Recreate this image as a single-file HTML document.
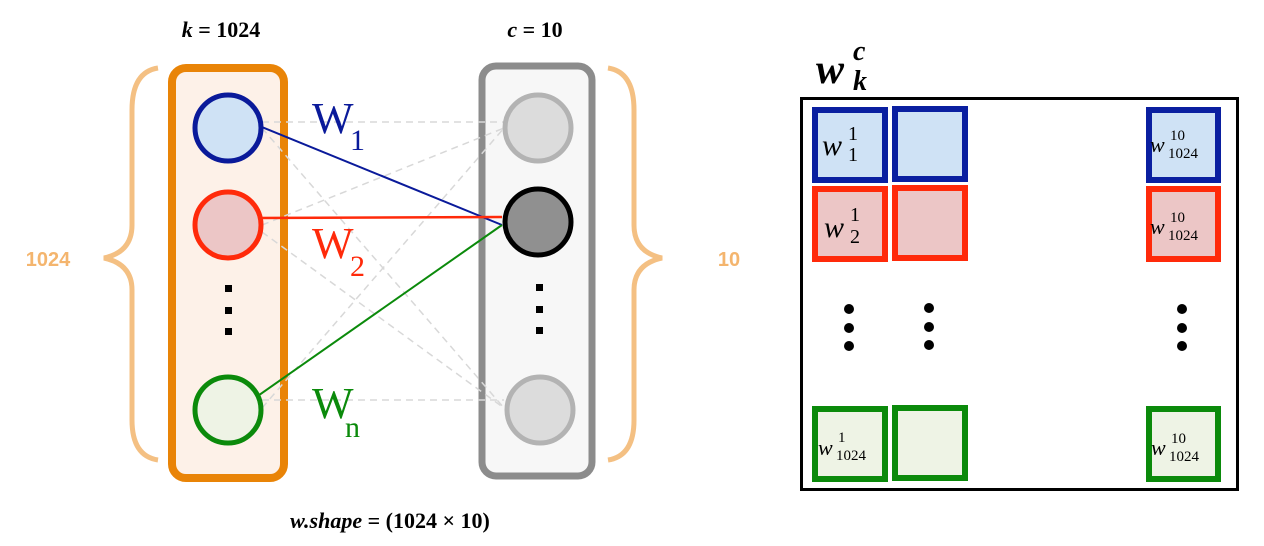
<!DOCTYPE html>
<html><head><style>
body{margin:0;width:1264px;height:546px;background:#fff;overflow:hidden;font-family:"Liberation Serif",serif}
</style></head><body>
<svg width="1264" height="546" xmlns="http://www.w3.org/2000/svg" style="position:absolute;left:0;top:0">
<rect x="172" y="68" width="112" height="410" rx="14" fill="#fdf1e8" stroke="#e98407" stroke-width="8"/>
<rect x="482" y="66" width="110" height="410" rx="14" fill="#f7f7f7" stroke="#8c8c8c" stroke-width="7"/>
<g stroke="#d8d8d8" stroke-width="1.5" stroke-dasharray="7,5" fill="none">
<line x1="262" y1="122" x2="504" y2="122"/><line x1="262" y1="128" x2="504" y2="408"/>
<line x1="262" y1="225" x2="504" y2="128"/><line x1="262" y1="232" x2="504" y2="408"/>
<line x1="262" y1="408" x2="504" y2="128"/><line x1="262" y1="400" x2="504" y2="400"/>
</g>
<line x1="252" y1="123" x2="502" y2="225" stroke="#0a1a9a" stroke-width="2"/>
<line x1="252" y1="218" x2="502" y2="217" stroke="#ff2a0a" stroke-width="2.5"/>
<line x1="252" y1="400" x2="502" y2="225" stroke="#0b8a0b" stroke-width="2"/>
<circle cx="228" cy="128" r="33" fill="#cfe2f5" stroke="#0a1a9a" stroke-width="5"/>
<circle cx="228" cy="225" r="33" fill="#ecc6c6" stroke="#ff2a0a" stroke-width="5"/>
<circle cx="228" cy="410" r="33" fill="#eef3e5" stroke="#0b8a0b" stroke-width="5"/>
<circle cx="538" cy="128" r="33" fill="#dcdcdc" stroke="#b3b3b3" stroke-width="5"/>
<circle cx="538" cy="222" r="33" fill="#909090" stroke="#000" stroke-width="5"/>
<circle cx="540" cy="410" r="33" fill="#dcdcdc" stroke="#b3b3b3" stroke-width="5"/>
<g fill="#000"><rect x="225" y="285" width="7" height="7"/><rect x="225" y="307" width="7" height="7"/><rect x="225" y="328" width="7" height="7"/>
<rect x="536" y="284" width="7" height="7"/><rect x="536" y="306" width="7" height="7"/><rect x="536" y="327" width="7" height="7"/></g>
<text x="312" y="133" font-size="44" fill="#0a1a9a">W</text><text x="350" y="150" font-size="30" fill="#0a1a9a">1</text>
<text x="312" y="258" font-size="44" fill="#ff2a0a">W</text><text x="350" y="276" font-size="30" fill="#ff2a0a">2</text>
<text x="312" y="418" font-size="44" fill="#0b8a0b">W</text><text x="345" y="437" font-size="30" fill="#0b8a0b">n</text>
<g fill="none" stroke="#f4c083" stroke-width="5">
<path d="M158,68 Q132,72 132,110 L132,225 Q132,252 104,258 Q132,264 132,290 L132,420 Q132,456 158,460"/>
<path d="M608,68 Q634,72 634,110 L634,225 Q634,252 662,258 Q634,264 634,290 L634,420 Q634,456 608,460"/>
</g>
<text x="48" y="266" font-family="Liberation Sans,sans-serif" font-weight="bold" font-size="20" fill="#f4b56e" text-anchor="middle">1024</text>
<text x="729" y="266" font-family="Liberation Sans,sans-serif" font-weight="bold" font-size="20" fill="#f4b56e" text-anchor="middle">10</text>
<text x="221" y="37" font-size="22" font-weight="bold" text-anchor="middle"><tspan font-style="italic">k</tspan> = 1024</text>
<text x="535" y="37" font-size="22" font-weight="bold" text-anchor="middle"><tspan font-style="italic">c</tspan> = 10</text>
<text x="390" y="528" font-size="22" font-weight="bold" text-anchor="middle"><tspan font-style="italic">w.shape</tspan> = (1024 × 10)</text>
<text x="816" y="83" font-size="42" font-weight="bold" font-style="italic">w</text>
<text x="853" y="60" font-size="28" font-weight="bold" font-style="italic">c</text>
<text x="853" y="90" font-size="28" font-weight="bold" font-style="italic">k</text>
<rect x="801.5" y="98.5" width="436" height="391" fill="#fff" stroke="#000" stroke-width="3"/>
<g stroke-width="6">
<rect x="815" y="110" width="70" height="70" fill="#cfe2f5" stroke="#0a1fa0"/>
<rect x="895" y="109" width="70" height="70" fill="#cfe2f5" stroke="#0a1fa0"/>
<rect x="1149" y="110" width="69" height="70" fill="#cfe2f5" stroke="#0a1fa0"/>
<rect x="815" y="189" width="70" height="70" fill="#ecc6c6" stroke="#ff2a0a"/>
<rect x="895" y="188" width="70" height="70" fill="#ecc6c6" stroke="#ff2a0a"/>
<rect x="1149" y="189" width="69" height="70" fill="#ecc6c6" stroke="#ff2a0a"/>
<rect x="815" y="409" width="70" height="70" fill="#eef3e5" stroke="#0b8a0b"/>
<rect x="895" y="408" width="70" height="70" fill="#eef3e5" stroke="#0b8a0b"/>
<rect x="1149" y="409" width="69" height="70" fill="#eef3e5" stroke="#0b8a0b"/>
</g>
<g fill="#000">
<circle cx="849" cy="309" r="5"/><circle cx="849" cy="328" r="5"/><circle cx="849" cy="346" r="5"/>
<circle cx="929" cy="308" r="5"/><circle cx="929" cy="327" r="5"/><circle cx="929" cy="345" r="5"/>
<circle cx="1182" cy="309" r="5"/><circle cx="1182" cy="328" r="5"/><circle cx="1182" cy="346" r="5"/>
</g>
<g font-family="Liberation Serif,serif">
<text x="822" y="155" font-size="30" font-style="italic">w</text><text x="848" y="140" font-size="20">1</text><text x="848" y="161" font-size="20">1</text>
<text x="824" y="237" font-size="30" font-style="italic">w</text><text x="850" y="221" font-size="20">1</text><text x="850" y="243" font-size="20">2</text>
<text x="818" y="455" font-size="22" font-style="italic">w</text><text x="838" y="442" font-size="15">1</text><text x="836" y="460" font-size="15">1024</text>
<text x="1150" y="152" font-size="22" font-style="italic">w</text><text x="1170" y="140" font-size="15">10</text><text x="1168" y="158" font-size="15">1024</text>
<text x="1150" y="234" font-size="22" font-style="italic">w</text><text x="1170" y="222" font-size="15">10</text><text x="1168" y="240" font-size="15">1024</text>
<text x="1151" y="455" font-size="22" font-style="italic">w</text><text x="1171" y="443" font-size="15">10</text><text x="1169" y="461" font-size="15">1024</text>
</g>
</svg>
</body></html>
